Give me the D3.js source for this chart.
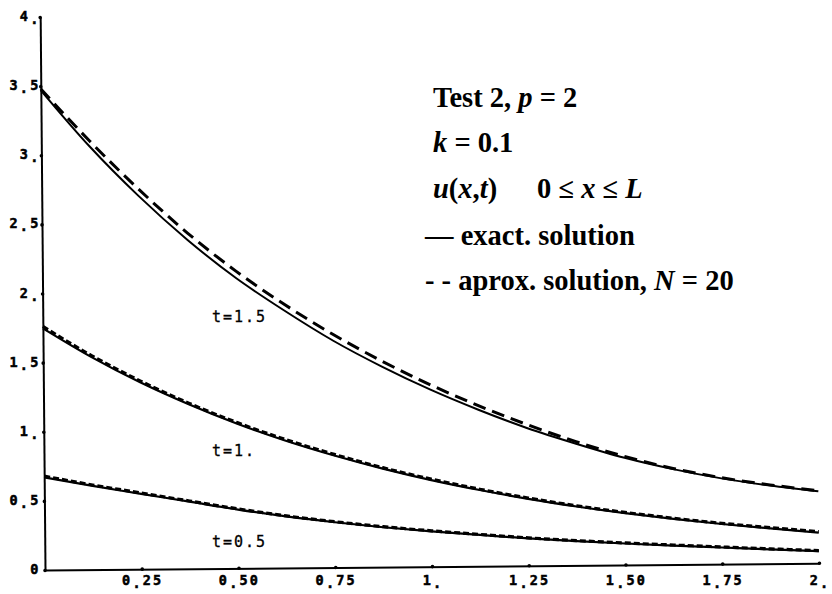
<!DOCTYPE html>
<html><head><meta charset="utf-8">
<script src="https://cdn.jsdelivr.net/npm/d3@7"></script>
<style>html,body{margin:0;padding:0;background:#fff;} svg{display:block;}</style>
</head><body>
<svg id="chart" width="832" height="594"></svg>
<script>
// ---- data ----
const xValues  = [0, 0.125, 0.25, 0.375, 0.5, 0.625, 0.75, 0.875, 1, 1.125, 1.25, 1.375, 1.5, 1.625, 1.75, 1.875, 2];
const exact15  = [3.47, 3.06, 2.70, 2.38, 2.10, 1.86, 1.64, 1.45, 1.28, 1.13, 0.995, 0.88, 0.775, 0.69, 0.62, 0.565, 0.52];
const approx15 = [3.48, 3.10, 2.75, 2.43, 2.15, 1.905, 1.685, 1.49, 1.315, 1.16, 1.02, 0.895, 0.785, 0.695, 0.625, 0.57, 0.525];
const exact10  = [1.748, 1.537, 1.352, 1.19, 1.046, 0.92, 0.81, 0.712, 0.626, 0.551, 0.484, 0.426, 0.375, 0.33, 0.29, 0.255, 0.222];
const approx10 = [1.762, 1.548, 1.362, 1.198, 1.054, 0.928, 0.818, 0.719, 0.633, 0.557, 0.49, 0.431, 0.38, 0.335, 0.295, 0.261, 0.229];
const exact05  = [0.67, 0.605, 0.545, 0.485, 0.425, 0.372, 0.327, 0.288, 0.255, 0.226, 0.198, 0.175, 0.155, 0.137, 0.12, 0.103, 0.088];
const approx05 = [0.679, 0.612, 0.551, 0.49, 0.43, 0.376, 0.331, 0.292, 0.259, 0.23, 0.202, 0.179, 0.159, 0.141, 0.124, 0.107, 0.092];

const xTicks = [0.25, 0.5, 0.75, 1, 1.25, 1.5, 1.75, 2];
const xTickLabels = ["0.25", "0.50", "0.75", "1.", "1.25", "1.50", "1.75", "2."];
const yTicks = [0, 0.5, 1, 1.5, 2, 2.5, 3, 3.5, 4];
const yTickLabels = ["0", "0.5", "1.", "1.5", "2.", "2.5", "3.", "3.5", "4."];

const curveLabels = ["t=1.5", "t=1.", "t=0.5"];
const curveLabelPos = [[212, 321.5], [212, 455.5], [212, 547]];

// ---- layout ----
const svg = d3.select("#chart");
svg.append("rect").attr("width", 832).attr("height", 594).attr("fill", "#fff");

const x = d3.scaleLinear().domain([0, 2]).range([45, 819]);
const y = d3.scaleLinear().domain([0, 4]).range([570, 17]);

// the scanned plot is slightly rotated
const plot = svg.append("g").attr("transform", "rotate(-0.5,45,570)");

const xAxis = d3.axisBottom(x).tickValues(xTicks).tickSize(0).tickSizeOuter(0).tickFormat("");
const yAxis = d3.axisLeft(y).tickValues(yTicks).tickSize(0).tickSizeOuter(0).tickFormat("");

const gx = plot.append("g").attr("transform", `translate(0,${y(0)})`).call(xAxis);
const gy = plot.append("g").attr("transform", `translate(${x(0)},0)`).call(yAxis);
[gx, gy].forEach(g => {
  g.select(".domain").attr("stroke", "#000").attr("stroke-width", 2);
  g.selectAll(".tick").append("circle").attr("r", 1.8).attr("fill", "#000");
});

const line = d3.line().x((d, i) => x(xValues[i])).y(d => y(d)).curve(d3.curveMonotoneX);

const series = [
  { values: exact15, dash: null, w: 2 },
  { values: approx15, dash: "13,7", w: 3 },
  { values: exact10, dash: null, w: 2.2 },
  { values: approx10, dash: "6,3", w: 3.2 },
  { values: exact05, dash: null, w: 2.2 },
  { values: approx05, dash: "6,3", w: 3.2 }
];
plot.selectAll("path.curve").data(series).enter().append("path")
  .attr("class", "curve")
  .attr("d", d => line(d.values))
  .attr("fill", "none")
  .attr("stroke", "#000")
  .attr("stroke-width", d => d.w)
  .attr("stroke-dasharray", d => d.dash);

// ---- tick labels (typewriter style with lowered decimal point) ----
const tickFont = "'DejaVu Sans Mono', monospace";
function dotted(sel, label) {
  const k = label.indexOf(".");
  if (k < 0) { sel.append("tspan").text(label); return; }
  sel.append("tspan").text(label.slice(0, k));
  sel.append("tspan").attr("dy", 3).text(".");
  if (k < label.length - 1) sel.append("tspan").attr("dy", -3).text(label.slice(k + 1));
}
const labels = svg.append("g").attr("font-family", tickFont).attr("font-weight", "bold")
  .attr("font-size", 13.5).attr("letter-spacing", 2.2).attr("fill", "#000")
  .attr("stroke", "#000").attr("stroke-width", 0.5);

xTicks.forEach((v, i) => {
  const t = labels.append("text").attr("x", x(v) + 1).attr("y", 585).attr("text-anchor", "middle");
  dotted(t, xTickLabels[i]);
});
yTicks.forEach((v, i) => {
  const t = labels.append("text").attr("x", 40.5).attr("y", y(v) + 4).attr("text-anchor", "end");
  dotted(t, yTickLabels[i]);
});

// ---- curve labels ----
svg.append("g").attr("font-family", tickFont).attr("font-size", 15).attr("letter-spacing", 2)
  .attr("stroke", "#000").attr("stroke-width", 0.3)
  .selectAll("text").data(curveLabels).enter().append("text")
  .attr("x", (d, i) => curveLabelPos[i][0]).attr("y", (d, i) => curveLabelPos[i][1])
  .text(d => d);

// ---- annotation block ----
const note = svg.append("g").attr("font-family", "'Liberation Serif', serif")
  .attr("font-weight", "bold").attr("font-size", 28.5).attr("fill", "#000");
function addLine(xp, yp, parts) {
  const t = note.append("text").attr("x", xp).attr("y", yp).attr("xml:space", "preserve");
  parts.forEach(p => {
    const s = t.append("tspan").text(p[0]);
    if (p[1]) s.attr("font-style", "italic");
    if (p[2] !== undefined) s.attr("x", p[2]);
  });
}
addLine(433, 107, [["Test 2, "], ["p", 1], [" = 2"]]);
addLine(433, 152, [["k", 1], [" = 0.1"]]);
addLine(433, 198, [["u", 1], ["("], ["x", 1], [","], ["t", 1], [")"], ["0 \u2264 ", 0, 537], ["x", 1], [" \u2264 "], ["L", 1]]);
addLine(425, 245, [["\u2014 exact. solution"]]);
addLine(425, 290, [["- - aprox. solution, "], ["N", 1], [" = 20"]]);
</script>
</body></html>
